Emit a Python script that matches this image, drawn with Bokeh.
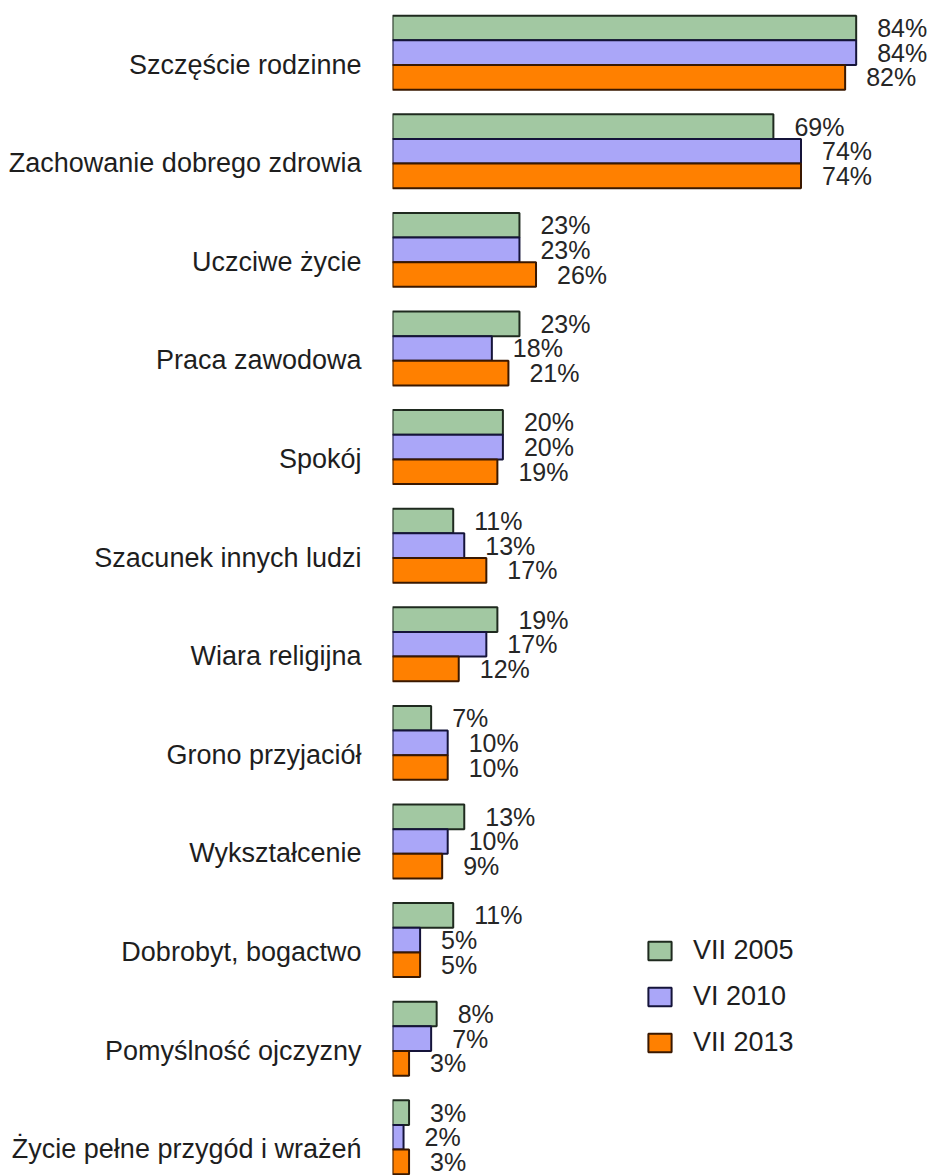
from bokeh.plotting import figure
from bokeh.models import ColumnDataSource, Range1d, FixedTicker, Legend, LegendItem
from bokeh.core.properties import value
from bokeh.embed import file_html
from bokeh.resources import INLINE

categories = ["Szczęście rodzinne", "Zachowanie dobrego zdrowia", "Uczciwe życie",
              "Praca zawodowa", "Spokój", "Szacunek innych ludzi", "Wiara religijna",
              "Grono przyjaciół", "Wykształcenie", "Dobrobyt, bogactwo",
              "Pomyślność ojczyzny", "Życie pełne przygód i wrażeń"]
series_names = ["VII 2005", "VI 2010", "VII 2013"]
v2005 = [84, 69, 23, 23, 20, 11, 19, 7, 13, 11, 8, 3]
v2010 = [84, 74, 23, 18, 20, 13, 17, 10, 10, 5, 7, 2]
v2013 = [82, 74, 26, 21, 19, 17, 12, 10, 9, 5, 3, 3]

fills = ["#a2c8a2", "#aaa6f8", "#ff8000"]
lines = ["#1f2a1f", "#15143a", "#3a1800"]
FONT = "Liberation Sans"

W, H = 935, 1175
LEFT = 392
px_per_unit = 5.52
group_px = 98.6
label_top_px = 64

p = figure(width=W, height=H, output_backend="svg", toolbar_location=None,
           x_range=Range1d(0, (W - LEFT) / px_per_unit),
           y_range=Range1d((H - label_top_px) / group_px, -label_top_px / group_px),
           min_border_left=LEFT, min_border_right=0, min_border_top=0, min_border_bottom=0,
           outline_line_color=None, background_fill_color="white", border_fill_color="white")
p.xgrid.visible = False
p.ygrid.visible = False
p.xaxis.visible = False

bar_h = 0.25
offsets = [-0.25, 0.0, 0.25]
shift = -0.12
renderers = []
for s, vals in enumerate([v2005, v2010, v2013]):
    ys = [k + shift + offsets[s] for k in range(len(categories))]
    src = ColumnDataSource(dict(y=ys, v=vals, lab=[f"{v}%" for v in vals]))
    r = p.hbar(y="y", right="v", left=0, height=bar_h, source=src,
               fill_color=fills[s], line_color=lines[s], line_width=2)
    renderers.append(r)
    p.text(x="v", y="y", text="lab", source=src, x_offset=21, y_offset=0,
           text_align="left", text_baseline="middle",
           text_font=value(FONT), text_font_size="25px", text_color="#262626")

yax = p.yaxis[0]
yax.ticker = FixedTicker(ticks=list(range(len(categories))))
yax.major_label_overrides = {k: c for k, c in enumerate(categories)}
yax.major_label_text_font = FONT
yax.major_label_text_font_size = "27px"
yax.major_label_text_color = "#1e1e1e"
yax.axis_line_color = None
yax.major_tick_line_color = None
yax.minor_tick_line_color = None
yax.major_label_standoff = 25

legend = Legend(items=[LegendItem(label=series_names[i], renderers=[renderers[i]]) for i in range(3)],
                location=(253, 117), padding=0, margin=0, spacing=15,
                glyph_width=29, glyph_height=23, label_standoff=19,
                label_text_font=FONT, label_text_font_size="27px", label_text_color="#1e1e1e",
                border_line_color=None, background_fill_alpha=0)
p.add_layout(legend, "center")

open("out.html", "w").write(file_html(p, INLINE))
